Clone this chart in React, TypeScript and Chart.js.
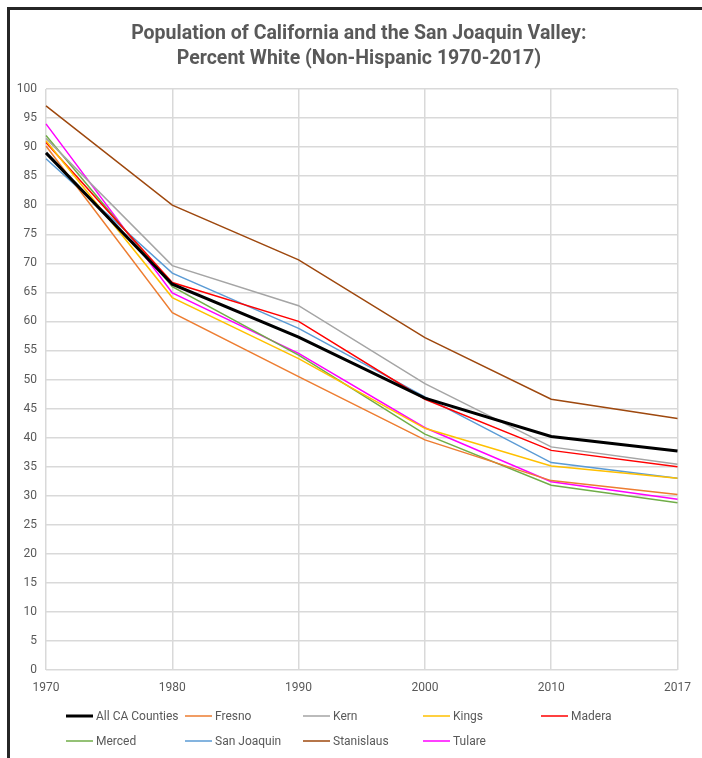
import React, { useEffect, useRef } from "react";
import { Chart, registerables } from "chart.js";

Chart.register(...registerables);

const years = ["1970", "1980", "1990", "2000", "2010", "2017"];
const yTickLabels = ["0","5","10","15","20","25","30","35","40","45","50","55","60","65","70","75","80","85","90","95","100"];

const allCA = [89.0, 66.4, 57.3, 46.8, 40.2, 37.7];
const fresno = [90.2, 61.5, 50.5, 39.6, 32.6, 30.2];
const kern = [91.5, 69.6, 62.7, 49.3, 38.4, 35.4];
const kings = [91.1, 64.1, 53.6, 41.6, 35.1, 33.0];
const madera = [90.8, 66.7, 60.0, 46.6, 37.8, 35.0];
const merced = [92.0, 66.0, 54.2, 40.6, 31.8, 28.8];
const sanJoaquin = [88.0, 68.3, 58.8, 47.0, 35.7, 33.0];
const stanislaus = [97.1, 80.0, 70.6, 57.2, 46.6, 43.3];
const tulare = [94.0, 64.9, 54.5, 41.7, 32.4, 29.4];

const seriesNames = ["All CA Counties", "Fresno", "Kern", "Kings", "Madera", "Merced", "San Joaquin", "Stanislaus", "Tulare"];
const seriesData = [allCA, fresno, kern, kings, madera, merced, sanJoaquin, stanislaus, tulare];
const seriesColors = ["#000000", "#ED7D31", "#A5A5A5", "#FFC000", "#FF0000", "#70AD47", "#5B9BD5", "#9E480E", "#FF00FF"];
const seriesWidths = [3, 1.5, 1.5, 1.5, 1.5, 1.5, 1.5, 1.5, 1.5];

const titleLines = ["Population of California and the San Joaquin Valley:", "Percent White (Non-Hispanic 1970-2017)"];

const FONT = "Roboto, 'Noto Sans', sans-serif";
const TEXT = "#595959";

const gridLegend = {
  id: "gridLegend",
  afterDraw(chart: any) {
    const ctx = chart.ctx;
    const ds = chart.data.datasets;
    const colX = [66, 185, 303, 423, 541];
    const rowY = [716, 741];
    ctx.save();
    ctx.font = "12px " + FONT;
    ctx.textBaseline = "middle";
    ctx.textAlign = "left";
    ds.forEach((d: any, i: number) => {
      const col = i % 5;
      const row = Math.floor(i / 5);
      const x = colX[col];
      const y = rowY[row];
      ctx.strokeStyle = d.borderColor;
      ctx.lineWidth = d.borderWidth;
      ctx.beginPath();
      ctx.moveTo(x, y);
      ctx.lineTo(x + 27, y);
      ctx.stroke();
      ctx.fillStyle = TEXT;
      ctx.fillText(d.label, x + 30, y + 0.5);
    });
    ctx.restore();
  },
};

export default function App() {
  const ref = useRef<HTMLCanvasElement>(null);

  useEffect(() => {
    if (!ref.current) return;
    const chart = new Chart(ref.current, {
      type: "line",
      data: {
        labels: years,
        datasets: seriesNames.map((n, i) => ({
          label: n,
          data: seriesData[i],
          borderColor: seriesColors[i],
          backgroundColor: seriesColors[i],
          borderWidth: seriesWidths[i],
          pointRadius: 0,
          tension: 0,
          fill: false,
        })),
      },
      options: {
        animation: false,
        responsive: false,
        maintainAspectRatio: false,
        layout: { padding: { left: 0, right: 21, top: 89, bottom: 58 } },
        plugins: {
          legend: { display: false },
          title: { display: false },
          tooltip: { enabled: false },
        },
        scales: {
          x: {
            type: "category",
            offset: false,
            grid: { color: "#D9D9D9", lineWidth: 1.5, drawTicks: false },
            border: { display: false },
            ticks: { color: TEXT, font: { family: FONT, size: 12 }, padding: 11, maxRotation: 0, autoSkip: false },
            afterFit: (s: any) => { s.height = 30; },
          },
          y: {
            min: 0,
            max: 100,
            grid: { color: "#D9D9D9", lineWidth: 1.5, drawTicks: false },
            border: { display: false },
            ticks: {
              stepSize: 5,
              color: TEXT,
              font: { family: FONT, size: 12 },
              padding: 9,
              callback: (_v: any, idx: number) => yTickLabels[idx],
            },
            afterFit: (s: any) => { s.width = 46; },
          },
        },
      },
      plugins: [gridLegend],
    });
    return () => chart.destroy();
  }, []);

  return (
    <div style={{ position: "fixed", left: 0, top: 0, width: 702, height: 758, background: "#fff", overflow: "hidden" }}>
      <canvas ref={ref} width={702} height={758} style={{ position: "absolute", left: 0, top: 0, width: 702, height: 758 }} />
      <div style={{ position: "absolute", left: 7, top: 7, right: -10, bottom: -10, borderTop: "3px solid #262626", borderLeft: "3px solid #262626", pointerEvents: "none" }} />
      <div style={{ position: "absolute", left: 0, top: 20, width: 718, textAlign: "center", fontFamily: FONT, fontWeight: 700, fontSize: 21, lineHeight: "25px", color: TEXT }}>
        {titleLines.map((t, i) => (
          <div key={i}><span style={{ display: "inline-block", transform: "scaleX(0.93)", whiteSpace: "nowrap" }}>{t}</span></div>
        ))}
      </div>
    </div>
  );
}
